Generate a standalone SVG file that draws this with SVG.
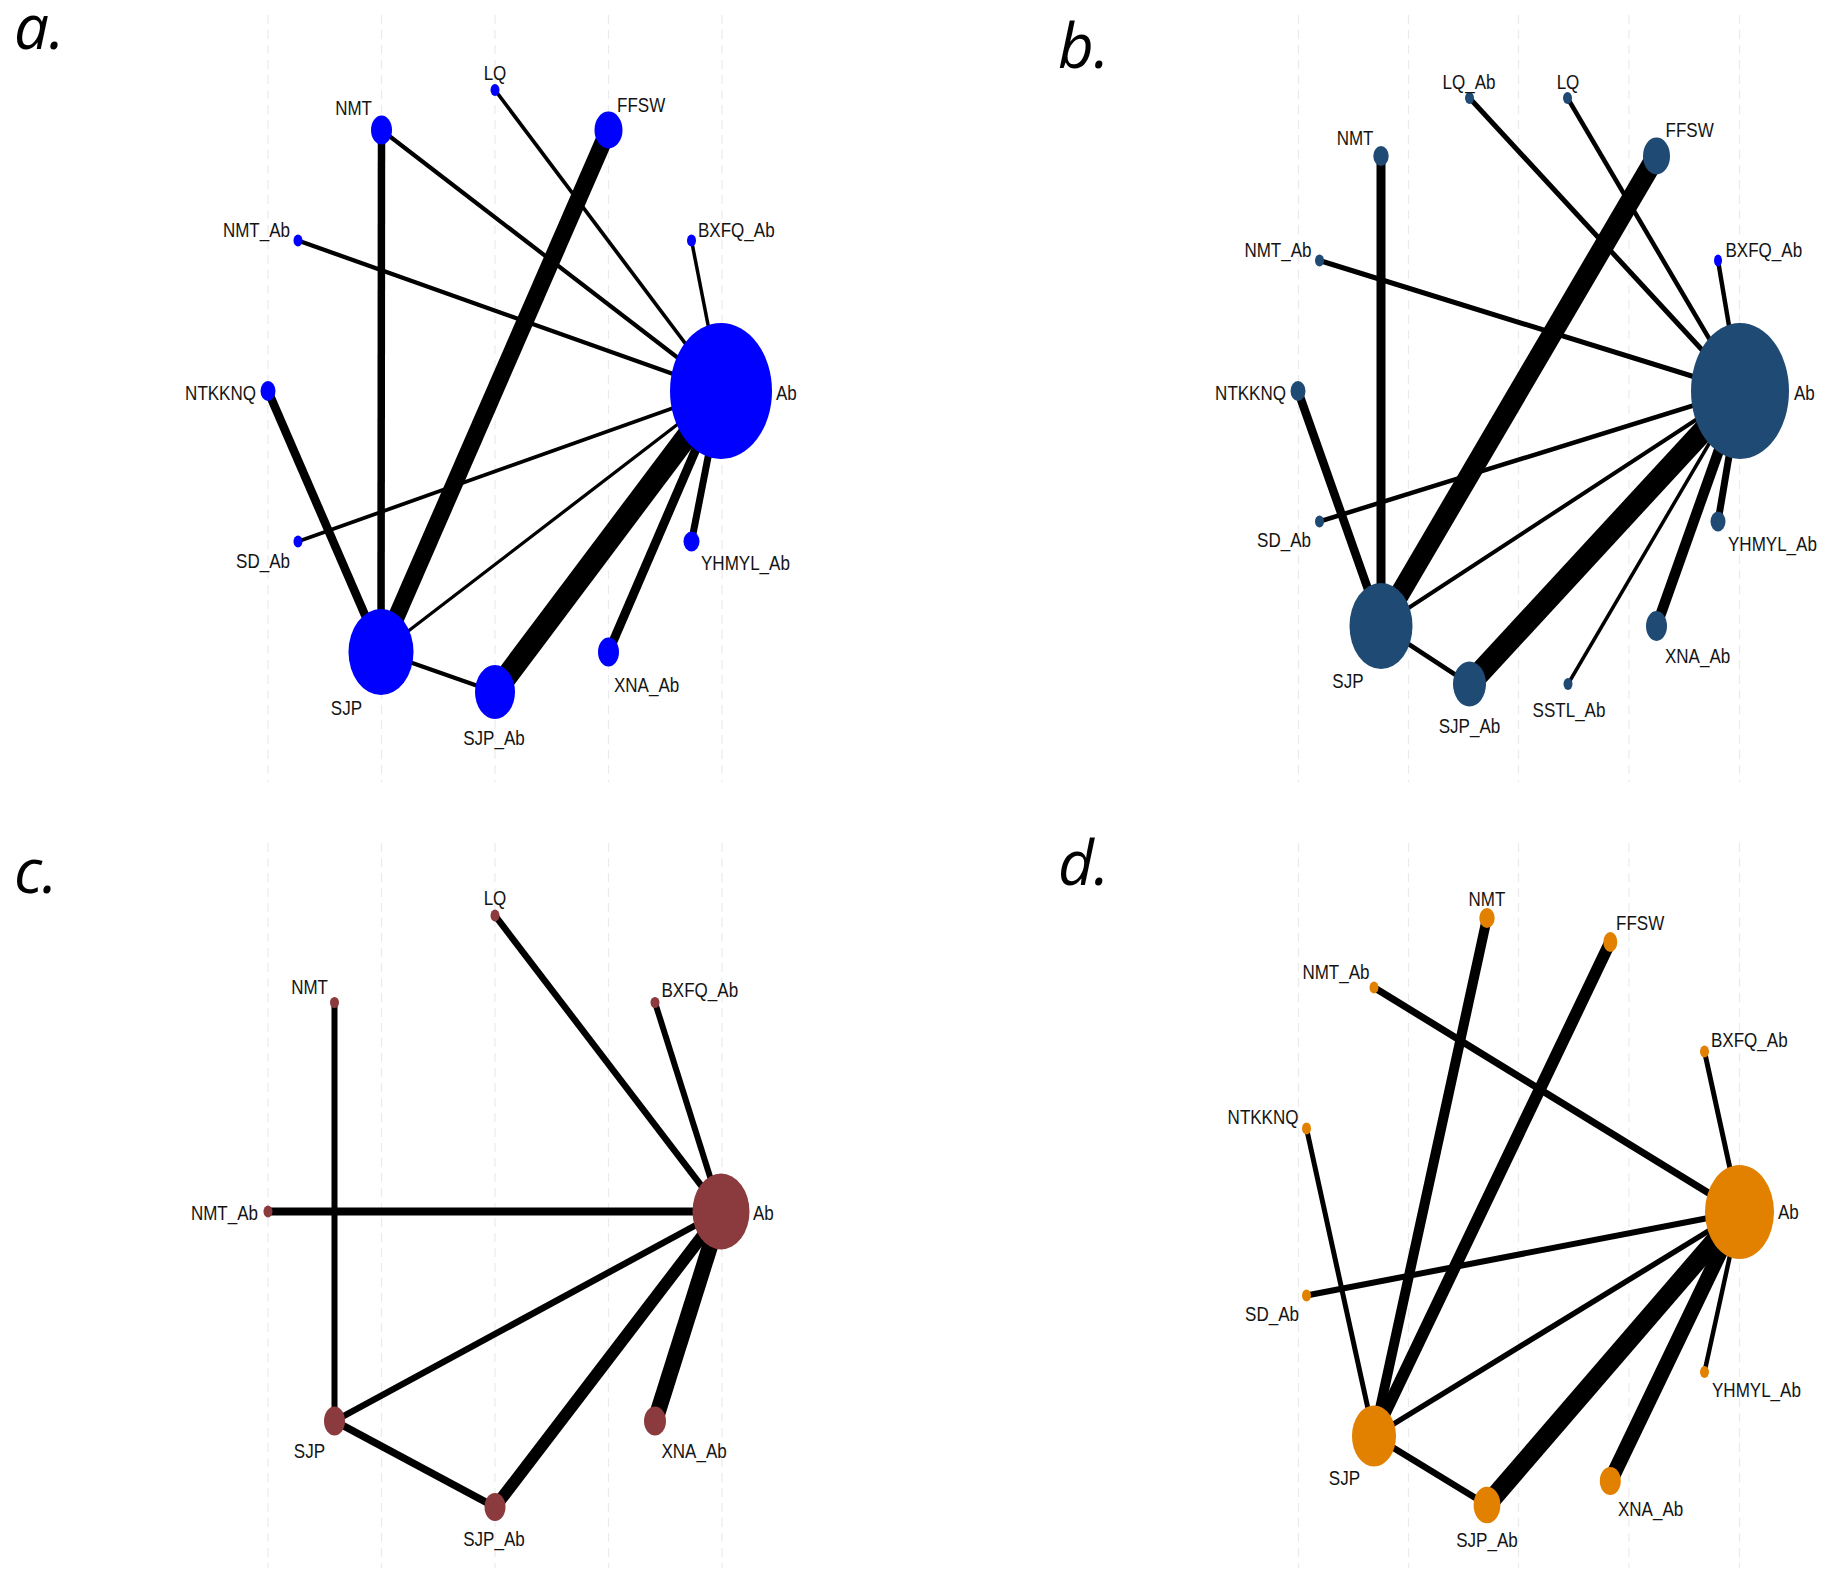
<svg xmlns="http://www.w3.org/2000/svg" width="1831" height="1571" viewBox="0 0 1831 1571">
<style>
.bg{fill:#ffffff}
.grid{stroke:#ebebeb;stroke-width:1.2;stroke-dasharray:9 6;fill:none}
.e{stroke:#000;stroke-linecap:butt;fill:none}
.lbl{font-family:"Liberation Sans Narrow","Liberation Sans",Arial,sans-serif;font-size:21px;fill:#141414}
.pl{font-family:"Open Sans","DejaVu Sans",sans-serif;font-style:italic;font-size:62px;fill:#000}
.na{fill:#0000ff}
.nb{fill:#1f4a73}
.nc{fill:#8b3a3e}
.nd{fill:#e28000}
.blue{fill:#0000ff}
</style>
<rect class="bg" x="0" y="0" width="1831" height="1571"/>

<!-- ================= Panel a ================= -->
<g id="panel-a">
<text class="pl" x="14" y="49">a.</text>
<g id="grid-a" class="grid">
<line x1="268" y1="15" x2="268" y2="782"/>
<line x1="381.5" y1="15" x2="381.5" y2="782"/>
<line x1="495" y1="15" x2="495" y2="782"/>
<line x1="608.5" y1="15" x2="608.5" y2="782"/>
<line x1="722" y1="15" x2="722" y2="782"/>
</g>
<g id="edges-a">
<line class="e" x1="495" y1="90" x2="721" y2="391" stroke-width="3.7"/>
<line class="e" x1="381.5" y1="130" x2="721" y2="391" stroke-width="4.2"/>
<line class="e" x1="381.5" y1="130" x2="381" y2="652" stroke-width="7.5"/>
<line class="e" x1="608.5" y1="130" x2="381" y2="652" stroke-width="17"/>
<line class="e" x1="298" y1="240.5" x2="721" y2="391" stroke-width="4.3"/>
<line class="e" x1="691.5" y1="240.5" x2="721" y2="391" stroke-width="3.5"/>
<line class="e" x1="268" y1="391" x2="381" y2="652" stroke-width="8.5"/>
<line class="e" x1="298" y1="541.5" x2="721" y2="391" stroke-width="3.8"/>
<line class="e" x1="381" y1="652" x2="721" y2="391" stroke-width="3.3"/>
<line class="e" x1="381" y1="652" x2="495" y2="692" stroke-width="4"/>
<line class="e" x1="495" y1="692" x2="721" y2="391" stroke-width="22"/>
<line class="e" x1="608.5" y1="652" x2="721" y2="391" stroke-width="9"/>
<line class="e" x1="691.5" y1="541.5" x2="721" y2="391" stroke-width="7"/>
</g>
<g id="a-Ab"><ellipse class="na" cx="721" cy="391" rx="51" ry="68"/><text class="lbl" x="776" y="400" textLength="20.8" lengthAdjust="spacingAndGlyphs">Ab</text></g>
<g id="a-BXFQ_Ab"><ellipse class="na" cx="691.5" cy="240.5" rx="4.5" ry="6"/><text class="lbl" x="698" y="237" textLength="76.6" lengthAdjust="spacingAndGlyphs">BXFQ_Ab</text></g>
<g id="a-FFSW"><ellipse class="na" cx="608.5" cy="130" rx="14" ry="18.5"/><text class="lbl" x="617" y="112" textLength="48.2" lengthAdjust="spacingAndGlyphs">FFSW</text></g>
<g id="a-LQ"><ellipse class="na" cx="495" cy="90" rx="4.5" ry="6"/><text class="lbl" x="495" y="80" text-anchor="middle" textLength="22.7" lengthAdjust="spacingAndGlyphs">LQ</text></g>
<g id="a-NMT"><ellipse class="na" cx="381.5" cy="130" rx="10.5" ry="14.5"/><text class="lbl" x="372" y="115" text-anchor="end" textLength="36.8" lengthAdjust="spacingAndGlyphs">NMT</text></g>
<g id="a-NMT_Ab"><ellipse class="na" cx="298" cy="240.5" rx="4.5" ry="6"/><text class="lbl" x="290" y="237" text-anchor="end" textLength="67.1" lengthAdjust="spacingAndGlyphs">NMT_Ab</text></g>
<g id="a-NTKKNQ"><ellipse class="na" cx="268" cy="391" rx="7.5" ry="10"/><text class="lbl" x="256" y="400" text-anchor="end" textLength="70.9" lengthAdjust="spacingAndGlyphs">NTKKNQ</text></g>
<g id="a-SD_Ab"><ellipse class="na" cx="298" cy="541.5" rx="4.5" ry="6"/><text class="lbl" x="290" y="568" text-anchor="end" textLength="53.9" lengthAdjust="spacingAndGlyphs">SD_Ab</text></g>
<g id="a-SJP"><ellipse class="na" cx="381" cy="652" rx="32.5" ry="43"/><text class="lbl" x="362" y="715" text-anchor="end" textLength="31.2" lengthAdjust="spacingAndGlyphs">SJP</text></g>
<g id="a-SJP_Ab"><ellipse class="na" cx="495" cy="692" rx="20" ry="27"/><text class="lbl" x="494" y="745" text-anchor="middle" textLength="61.5" lengthAdjust="spacingAndGlyphs">SJP_Ab</text></g>
<g id="a-XNA_Ab"><ellipse class="na" cx="608.5" cy="652" rx="10.5" ry="14.5"/><text class="lbl" x="614" y="692" textLength="65.2" lengthAdjust="spacingAndGlyphs">XNA_Ab</text></g>
<g id="a-YHMYL_Ab"><ellipse class="na" cx="691.5" cy="541.5" rx="8" ry="10"/><text class="lbl" x="701" y="570" textLength="88.9" lengthAdjust="spacingAndGlyphs">YHMYL_Ab</text></g>
</g>

<!-- ================= Panel b ================= -->
<g id="panel-b">
<text class="pl" x="1058" y="68">b.</text>
<g id="grid-b" class="grid">
<line x1="1298.5" y1="15" x2="1298.5" y2="782"/>
<line x1="1408.5" y1="15" x2="1408.5" y2="782"/>
<line x1="1518.5" y1="15" x2="1518.5" y2="782"/>
<line x1="1629" y1="15" x2="1629" y2="782"/>
<line x1="1739.5" y1="15" x2="1739.5" y2="782"/>
</g>
<g id="edges-b">
<line class="e" x1="1469.5" y1="98" x2="1740" y2="391" stroke-width="5"/>
<line class="e" x1="1567.5" y1="98" x2="1740" y2="391" stroke-width="4.5"/>
<line class="e" x1="1656.5" y1="156" x2="1381" y2="626" stroke-width="20"/>
<line class="e" x1="1381" y1="156" x2="1381" y2="626" stroke-width="9"/>
<line class="e" x1="1319.5" y1="260.5" x2="1740" y2="391" stroke-width="5"/>
<line class="e" x1="1718" y1="260.5" x2="1740" y2="391" stroke-width="4.5"/>
<line class="e" x1="1298" y1="391" x2="1381" y2="626" stroke-width="8.5"/>
<line class="e" x1="1319.5" y1="521.5" x2="1740" y2="391" stroke-width="4.5"/>
<line class="e" x1="1381" y1="626" x2="1740" y2="391" stroke-width="4"/>
<line class="e" x1="1381" y1="626" x2="1469.5" y2="684" stroke-width="4.5"/>
<line class="e" x1="1469.5" y1="684" x2="1740" y2="391" stroke-width="22"/>
<line class="e" x1="1568" y1="684" x2="1740" y2="391" stroke-width="3.5"/>
<line class="e" x1="1656.5" y1="626" x2="1740" y2="391" stroke-width="10.5"/>
<line class="e" x1="1718" y1="521.5" x2="1740" y2="391" stroke-width="7"/>
</g>
<g id="b-Ab"><ellipse class="nb" cx="1740" cy="391" rx="49" ry="68"/><text class="lbl" x="1794" y="400" textLength="20.8" lengthAdjust="spacingAndGlyphs">Ab</text></g>
<g id="b-BXFQ_Ab"><ellipse class="blue" cx="1718" cy="260.5" rx="4" ry="6"/><text class="lbl" x="1725.5" y="257" textLength="76.6" lengthAdjust="spacingAndGlyphs">BXFQ_Ab</text></g>
<g id="b-FFSW"><ellipse class="nb" cx="1656.5" cy="156" rx="13.5" ry="18.5"/><text class="lbl" x="1665.5" y="137" textLength="48.2" lengthAdjust="spacingAndGlyphs">FFSW</text></g>
<g id="b-LQ"><ellipse class="nb" cx="1567.5" cy="98" rx="4.5" ry="6"/><text class="lbl" x="1568" y="89" text-anchor="middle" textLength="22.7" lengthAdjust="spacingAndGlyphs">LQ</text></g>
<g id="b-LQ_Ab"><ellipse class="nb" cx="1469.5" cy="98" rx="4.5" ry="6"/><text class="lbl" x="1469" y="89" text-anchor="middle" textLength="53" lengthAdjust="spacingAndGlyphs">LQ_Ab</text></g>
<g id="b-NMT"><ellipse class="nb" cx="1381" cy="156" rx="7.7" ry="10"/><text class="lbl" x="1373.5" y="145" text-anchor="end" textLength="36.8" lengthAdjust="spacingAndGlyphs">NMT</text></g>
<g id="b-NMT_Ab"><ellipse class="nb" cx="1319.5" cy="260.5" rx="4.5" ry="6"/><text class="lbl" x="1311.5" y="257" text-anchor="end" textLength="67.1" lengthAdjust="spacingAndGlyphs">NMT_Ab</text></g>
<g id="b-NTKKNQ"><ellipse class="nb" cx="1298" cy="391" rx="7.5" ry="10"/><text class="lbl" x="1286" y="400" text-anchor="end" textLength="70.9" lengthAdjust="spacingAndGlyphs">NTKKNQ</text></g>
<g id="b-SD_Ab"><ellipse class="nb" cx="1319.5" cy="521.5" rx="4.5" ry="6"/><text class="lbl" x="1311" y="547" text-anchor="end" textLength="53.9" lengthAdjust="spacingAndGlyphs">SD_Ab</text></g>
<g id="b-SJP"><ellipse class="nb" cx="1381" cy="626" rx="31.5" ry="43"/><text class="lbl" x="1363.5" y="688" text-anchor="end" textLength="31.2" lengthAdjust="spacingAndGlyphs">SJP</text></g>
<g id="b-SJP_Ab"><ellipse class="nb" cx="1469.5" cy="684" rx="16.5" ry="22.5"/><text class="lbl" x="1469.5" y="733" text-anchor="middle" textLength="61.5" lengthAdjust="spacingAndGlyphs">SJP_Ab</text></g>
<g id="b-SSTL_Ab"><ellipse class="nb" cx="1568" cy="684" rx="4.5" ry="6"/><text class="lbl" x="1569" y="717" text-anchor="middle" textLength="72.8" lengthAdjust="spacingAndGlyphs">SSTL_Ab</text></g>
<g id="b-XNA_Ab"><ellipse class="nb" cx="1656.5" cy="626" rx="10.5" ry="15"/><text class="lbl" x="1665" y="663" textLength="65.2" lengthAdjust="spacingAndGlyphs">XNA_Ab</text></g>
<g id="b-YHMYL_Ab"><ellipse class="nb" cx="1718" cy="521.5" rx="7.5" ry="10"/><text class="lbl" x="1728" y="551" textLength="88.9" lengthAdjust="spacingAndGlyphs">YHMYL_Ab</text></g>
</g>

<!-- ================= Panel c ================= -->
<g id="panel-c">
<text class="pl" x="14" y="893">c.</text>
<g id="grid-c" class="grid">
<line x1="268" y1="843" x2="268" y2="1568"/>
<line x1="381.5" y1="843" x2="381.5" y2="1568"/>
<line x1="495" y1="843" x2="495" y2="1568"/>
<line x1="608.5" y1="843" x2="608.5" y2="1568"/>
<line x1="722" y1="843" x2="722" y2="1568"/>
</g>
<g id="edges-c">
<line class="e" x1="495" y1="915.5" x2="721" y2="1211.5" stroke-width="6.5"/>
<line class="e" x1="655" y1="1002.5" x2="721" y2="1211.5" stroke-width="6"/>
<line class="e" x1="334.5" y1="1002.5" x2="334.5" y2="1421" stroke-width="6"/>
<line class="e" x1="268" y1="1211.5" x2="721" y2="1211.5" stroke-width="8"/>
<line class="e" x1="334.5" y1="1421" x2="721" y2="1211.5" stroke-width="6.5"/>
<line class="e" x1="334.5" y1="1421" x2="495" y2="1507" stroke-width="7.5"/>
<line class="e" x1="495" y1="1507" x2="721" y2="1211.5" stroke-width="12"/>
<line class="e" x1="655" y1="1421" x2="721" y2="1211.5" stroke-width="16"/>
</g>
<g id="c-Ab"><ellipse class="nc" cx="721" cy="1211.5" rx="28.5" ry="38"/><text class="lbl" x="753" y="1220" textLength="20.8" lengthAdjust="spacingAndGlyphs">Ab</text></g>
<g id="c-BXFQ_Ab"><ellipse class="nc" cx="655" cy="1002.5" rx="4.5" ry="5.5"/><text class="lbl" x="661.5" y="997" textLength="76.6" lengthAdjust="spacingAndGlyphs">BXFQ_Ab</text></g>
<g id="c-LQ"><ellipse class="nc" cx="495" cy="915.5" rx="4.5" ry="6"/><text class="lbl" x="495" y="905" text-anchor="middle" textLength="22.7" lengthAdjust="spacingAndGlyphs">LQ</text></g>
<g id="c-NMT"><ellipse class="nc" cx="334.5" cy="1002.5" rx="4.5" ry="5.5"/><text class="lbl" x="328" y="994" text-anchor="end" textLength="36.8" lengthAdjust="spacingAndGlyphs">NMT</text></g>
<g id="c-NMT_Ab"><ellipse class="nc" cx="268" cy="1211.5" rx="4.5" ry="6"/><text class="lbl" x="258" y="1220" text-anchor="end" textLength="67.1" lengthAdjust="spacingAndGlyphs">NMT_Ab</text></g>
<g id="c-SJP"><ellipse class="nc" cx="334.5" cy="1421" rx="10.5" ry="14.5"/><text class="lbl" x="325" y="1457.5" text-anchor="end" textLength="31.2" lengthAdjust="spacingAndGlyphs">SJP</text></g>
<g id="c-SJP_Ab"><ellipse class="nc" cx="495" cy="1507" rx="10.5" ry="14"/><text class="lbl" x="494" y="1546" text-anchor="middle" textLength="61.5" lengthAdjust="spacingAndGlyphs">SJP_Ab</text></g>
<g id="c-XNA_Ab"><ellipse class="nc" cx="655" cy="1421" rx="11" ry="14.5"/><text class="lbl" x="661.5" y="1457.5" textLength="65.2" lengthAdjust="spacingAndGlyphs">XNA_Ab</text></g>
</g>

<!-- ================= Panel d ================= -->
<g id="panel-d">
<text class="pl" x="1058" y="885">d.</text>
<g id="grid-d" class="grid">
<line x1="1298.5" y1="843" x2="1298.5" y2="1568"/>
<line x1="1408.5" y1="843" x2="1408.5" y2="1568"/>
<line x1="1518.5" y1="843" x2="1518.5" y2="1568"/>
<line x1="1629" y1="843" x2="1629" y2="1568"/>
<line x1="1739.5" y1="843" x2="1739.5" y2="1568"/>
</g>
<g id="edges-d">
<line class="e" x1="1487" y1="918" x2="1374" y2="1436" stroke-width="10"/>
<line class="e" x1="1610.3" y1="942" x2="1374" y2="1436" stroke-width="12"/>
<line class="e" x1="1374" y1="987.5" x2="1739.5" y2="1212" stroke-width="7"/>
<line class="e" x1="1704.5" y1="1051.5" x2="1739.5" y2="1212" stroke-width="5"/>
<line class="e" x1="1306.5" y1="1128.5" x2="1374" y2="1436" stroke-width="5"/>
<line class="e" x1="1306.5" y1="1295.5" x2="1739.5" y2="1212" stroke-width="6"/>
<line class="e" x1="1374" y1="1436" x2="1739.5" y2="1212" stroke-width="5.5"/>
<line class="e" x1="1374" y1="1436" x2="1487" y2="1505" stroke-width="6.5"/>
<line class="e" x1="1487" y1="1505" x2="1739.5" y2="1212" stroke-width="19"/>
<line class="e" x1="1610.3" y1="1481" x2="1739.5" y2="1212" stroke-width="15"/>
<line class="e" x1="1704.5" y1="1372" x2="1739.5" y2="1212" stroke-width="4.5"/>
</g>
<g id="d-Ab"><ellipse class="nd" cx="1739.5" cy="1212" rx="34.5" ry="47"/><text class="lbl" x="1778" y="1219" textLength="20.8" lengthAdjust="spacingAndGlyphs">Ab</text></g>
<g id="d-BXFQ_Ab"><ellipse class="nd" cx="1704.5" cy="1051.5" rx="4.5" ry="6"/><text class="lbl" x="1711" y="1047" textLength="76.6" lengthAdjust="spacingAndGlyphs">BXFQ_Ab</text></g>
<g id="d-FFSW"><ellipse class="nd" cx="1610.3" cy="942" rx="7" ry="10"/><text class="lbl" x="1616" y="930" textLength="48.2" lengthAdjust="spacingAndGlyphs">FFSW</text></g>
<g id="d-NMT"><ellipse class="nd" cx="1487" cy="918" rx="7.7" ry="10"/><text class="lbl" x="1487" y="906" text-anchor="middle" textLength="36.8" lengthAdjust="spacingAndGlyphs">NMT</text></g>
<g id="d-NMT_Ab"><ellipse class="nd" cx="1374" cy="987.5" rx="4.5" ry="6"/><text class="lbl" x="1369.5" y="979" text-anchor="end" textLength="67.1" lengthAdjust="spacingAndGlyphs">NMT_Ab</text></g>
<g id="d-NTKKNQ"><ellipse class="nd" cx="1306.5" cy="1128.5" rx="4.5" ry="6"/><text class="lbl" x="1298.5" y="1124" text-anchor="end" textLength="70.9" lengthAdjust="spacingAndGlyphs">NTKKNQ</text></g>
<g id="d-SD_Ab"><ellipse class="nd" cx="1306.5" cy="1295.5" rx="4.5" ry="6"/><text class="lbl" x="1299" y="1321" text-anchor="end" textLength="53.9" lengthAdjust="spacingAndGlyphs">SD_Ab</text></g>
<g id="d-SJP"><ellipse class="nd" cx="1374" cy="1436" rx="22" ry="30.5"/><text class="lbl" x="1360" y="1485" text-anchor="end" textLength="31.2" lengthAdjust="spacingAndGlyphs">SJP</text></g>
<g id="d-SJP_Ab"><ellipse class="nd" cx="1487" cy="1505" rx="13.4" ry="18.3"/><text class="lbl" x="1487" y="1547" text-anchor="middle" textLength="61.5" lengthAdjust="spacingAndGlyphs">SJP_Ab</text></g>
<g id="d-XNA_Ab"><ellipse class="nd" cx="1610.3" cy="1481" rx="10.5" ry="14"/><text class="lbl" x="1618" y="1516" textLength="65.2" lengthAdjust="spacingAndGlyphs">XNA_Ab</text></g>
<g id="d-YHMYL_Ab"><ellipse class="nd" cx="1704.5" cy="1372" rx="4.5" ry="6"/><text class="lbl" x="1712" y="1397" textLength="88.9" lengthAdjust="spacingAndGlyphs">YHMYL_Ab</text></g>
</g>
</svg>
